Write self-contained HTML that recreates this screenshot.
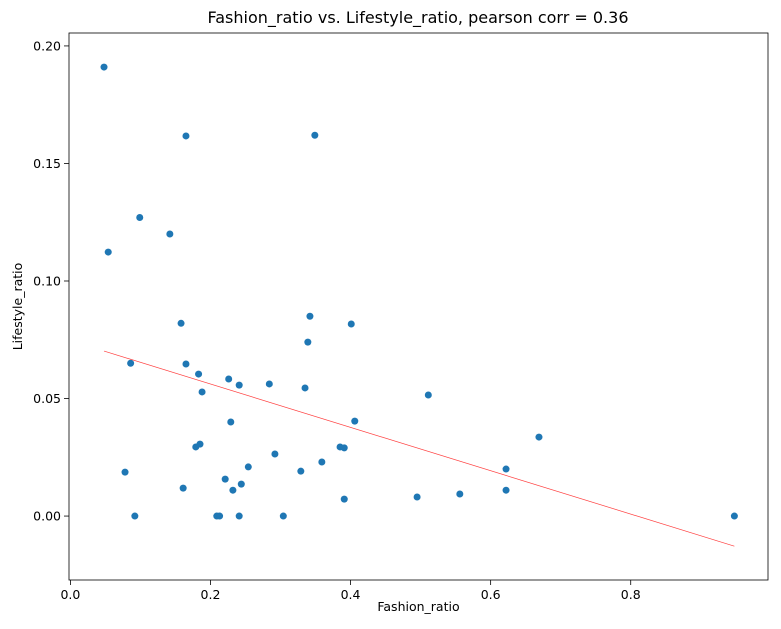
<!DOCTYPE html>
<html><head><meta charset="utf-8"><style>
body{margin:0;background:#fff;font-family:"Liberation Sans","DejaVu Sans",sans-serif;}
svg text{font-family:"DejaVu Sans","Liberation Sans",sans-serif;}
</style></head><body>
<svg id="chart" width="781" height="624" xmlns="http://www.w3.org/2000/svg"></svg>
<script>
const fashion=[0.048,0.165,0.349,0.099,0.054,0.142,0.158,0.342,0.401,0.339,0.086,0.165,0.183,0.226,0.284,0.241,0.335,0.188,0.511,0.229,0.406,0.669,0.185,0.179,0.385,0.391,0.292,0.359,0.254,0.329,0.622,0.078,0.221,0.244,0.161,0.232,0.622,0.556,0.495,0.391,0.092,0.209,0.213,0.241,0.304,0.948];
const lifestyle=[0.191,0.1617,0.162,0.127,0.1123,0.120,0.082,0.085,0.0817,0.074,0.065,0.0647,0.0604,0.0583,0.0562,0.0557,0.0545,0.0528,0.0515,0.040,0.0404,0.0336,0.0306,0.0294,0.0294,0.029,0.0264,0.023,0.0209,0.0191,0.020,0.0187,0.0157,0.0136,0.0119,0.011,0.011,0.0094,0.0081,0.0072,0,0,0,0,0,0];
const fitX=[0.048,0.948];
const fitY=[0.0702,-0.0128];
const xTicks=[0,0.2,0.4,0.6,0.8];
const xTickLabels=["0.0","0.2","0.4","0.6","0.8"];
const yTicks=[0,0.05,0.10,0.15,0.20];
const yTickLabels=["0.00","0.05","0.10","0.15","0.20"];

const L=69,R=768,T=33,B=580;
const xMin=-0.002,xMax=0.996,yMin=-0.0272,yMax=0.2055;
const sx=v=>L+(v-xMin)/(xMax-xMin)*(R-L);
const sy=v=>B-(v-yMin)/(yMax-yMin)*(B-T);
const svg=document.getElementById('chart');
const NS='http://www.w3.org/2000/svg';
function mk(tag,attrs,parent){const e=document.createElementNS(NS,tag);for(const k in attrs)e.setAttribute(k,attrs[k]);(parent||svg).appendChild(e);return e;}

const t=mk('text',{x:418,y:23,'text-anchor':'middle','font-size':16,fill:'#000'});
t.textContent='Fashion_ratio vs. Lifestyle_ratio, pearson corr = 0.36';



xTicks.forEach((v,i)=>{
  const g=mk('g',{});
  
  
  mk('line',{x1:sx(v),x2:sx(v),y1:B,y2:B+5,stroke:'#000','stroke-width':0.8},g);
  const tx=mk('text',{x:sx(v),y:B+19,'text-anchor':'middle','font-size':12.5,fill:'#000'},g);
  tx.textContent=xTickLabels[i];
});
yTicks.forEach((v,i)=>{
  const g=mk('g',{});
  
  
  mk('line',{x1:L-5,x2:L,y1:sy(v),y2:sy(v),stroke:'#000','stroke-width':0.8},g);
  const tx=mk('text',{x:L-8,y:sy(v)+4.5,'text-anchor':'end','font-size':12.5,fill:'#000'},g);
  tx.textContent=yTickLabels[i];
});

const xl=mk('text',{x:(L+R)/2,y:611,'text-anchor':'middle','font-size':12.5,fill:'#000'});
xl.textContent='Fashion_ratio';


const yl=mk('text',{x:0,y:0,'text-anchor':'middle','font-size':12.5,fill:'#000',transform:`translate(22,${(T+B)/2}) rotate(-90)`});
yl.textContent='Lifestyle_ratio';



fashion.forEach((v,i)=>{
  const c=mk('circle',{cx:sx(v),cy:sy(lifestyle[i]),r:3.5,fill:'#1f77b4'});
  
  
});

const fl=mk('line',{x1:sx(fitX[0]),y1:sy(fitY[0]),x2:sx(fitX[1]),y2:sy(fitY[1]),stroke:'#ff4040','stroke-width':0.7});



const fr=mk('rect',{x:L,y:T,width:R-L,height:B-T,fill:'none',stroke:'#000','stroke-width':0.8});


</script>
</body></html>
